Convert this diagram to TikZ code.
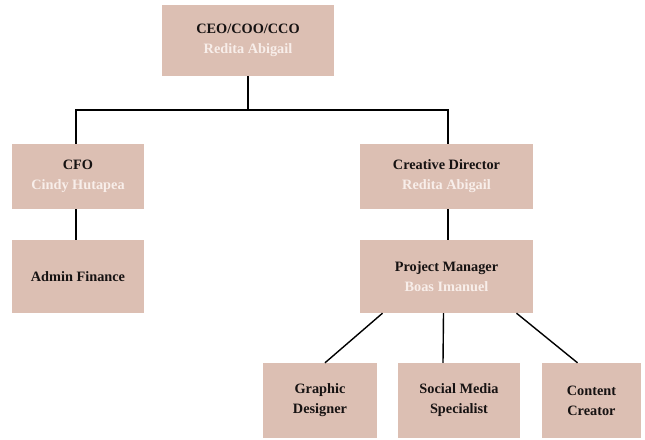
\documentclass[tikz,border=0pt]{standalone}
\usepackage{fontspec}
\setmainfont{Liberation Serif}
\definecolor{boxfill}{RGB}{220,191,179}
\definecolor{nametext}{RGB}{248,238,234}
\definecolor{titletext}{RGB}{22,18,18}
\begin{document}
\begin{tikzpicture}[x=1pt,y=-1pt,
  orgbox/.style={rectangle,fill=boxfill,draw=none,align=center,inner sep=2pt,
    font=\fontsize{14.3}{20}\selectfont\bfseries,text=titletext},
  link/.style={draw=black,line width=1.4pt}]
\useasboundingbox[fill=white] (0,0) rectangle (645,439);
\node[orgbox,minimum width=172pt,minimum height=71pt] (top) at (248,40.5)
  {CEO/COO/CCO\\\textcolor{nametext}{Redita Abigail}};
\node[orgbox,minimum width=132pt,minimum height=65pt] (cfo) at (78,176.5)
  {CFO\\\textcolor{nametext}{Cindy Hutapea}};
\node[orgbox,minimum width=173pt,minimum height=65pt] (cd) at (446.5,176.5)
  {Creative Director\\\textcolor{nametext}{Redita Abigail}};
\node[orgbox,minimum width=132pt,minimum height=73pt] (af) at (78,276.5)
  {Admin Finance};
\node[orgbox,minimum width=173pt,minimum height=73pt] (pm) at (446.5,276.5)
  {Project Manager\\\textcolor{nametext}{Boas Imanuel}};
\node[orgbox,minimum width=114pt,minimum height=75pt] (gd) at (320,400.5)
  {Graphic\\Designer};
\node[orgbox,minimum width=122pt,minimum height=75pt] (sm) at (459,400.5)
  {Social Media\\Specialist};
\node[orgbox,minimum width=99pt,minimum height=75pt] (cc) at (591.5,400.5)
  {Content\\Creator};
\coordinate (bus) at (248,110);
\draw[link] (top.south) -- (bus);
\draw[link] ([xshift=-2pt]cfo.north) |- (bus) -| ([xshift=1.5pt]cd.north);
\draw[link] ([xshift=-2pt]cfo.south) -- ([xshift=-2pt]af.north);
\draw[link] ([xshift=1.5pt]cd.south) -- ([xshift=1.5pt]pm.north);
\draw[link] ([xshift=-64pt]pm.south) -- ([xshift=5pt]gd.north);
\draw[link] ([xshift=-3pt]pm.south) -- ([xshift=-16pt]sm.north);
\draw[link] ([xshift=70pt]pm.south) -- ([xshift=-14pt]cc.north);
\end{tikzpicture}
\end{document}
